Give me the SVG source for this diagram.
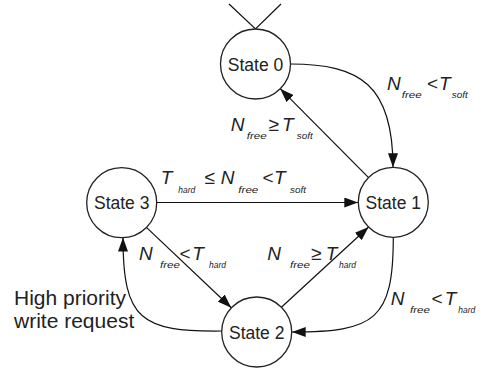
<svg xmlns="http://www.w3.org/2000/svg" width="487" height="373" viewBox="0 0 487 373">
  <style>
    .state circle { fill: #ffffff; stroke: #222; stroke-width: 1.3; }
    .state text { font-family: "Liberation Sans", Arial, sans-serif; font-size: 17.5px; fill: #222; text-anchor: middle; }
    .edge { fill: none; stroke: #111; stroke-width: 1.2; }
    .lbl text { font-family: "Liberation Sans", Arial, sans-serif; fill: #222; }
    .v { font-size: 19px; font-style: italic; }
    .op { font-size: 19px; }
    .sub { font-size: 9px; font-style: italic; }
    .note { font-family: "Liberation Sans", Arial, sans-serif; font-size: 21px; fill: #222; }
  </style>
  <defs>
    <marker id="arrow" markerWidth="14" markerHeight="10" refX="14" refY="5" orient="auto" markerUnits="userSpaceOnUse">
      <path d="M0,0 L14,5 L0,10 z" fill="#111"/>
    </marker>
  </defs>

  <rect width="487" height="373" fill="#ffffff"/>

  <!-- connectors -->
  <g id="connectors">
    <!-- entry mark above State 0 -->
    <path class="edge" d="M229,4 L255.5,29 L281,4"/>
    <!-- State 0 -> State 1 -->
    <path class="edge" d="M290.5,64 C360,64 393,85 393,167.3" marker-end="url(#arrow)"/>
    <!-- State 1 -> State 0 -->
    <path class="edge" d="M368.6,177.6 L280.2,88.7" marker-end="url(#arrow)"/>
    <!-- State 3 -> State 1 -->
    <path class="edge" d="M156.7,202.5 L358.3,202.5" marker-end="url(#arrow)"/>
    <!-- State 3 -> State 2 -->
    <path class="edge" d="M146.4,227.4 L231.3,307.7" marker-end="url(#arrow)"/>
    <!-- State 2 -> State 1 -->
    <path class="edge" d="M281.4,307.3 L368.6,227" marker-end="url(#arrow)"/>
    <!-- State 1 -> State 2 -->
    <path class="edge" d="M393.3,237.3 C393.3,320 375,332 291.7,332" marker-end="url(#arrow)"/>
    <!-- State 2 -> State 3 (high priority write) -->
    <path class="edge" d="M221.7,331 C141,332 123,320 123,237.5" marker-end="url(#arrow)"/>
  </g>

  <!-- states -->
  <g id="state0" class="state">
    <circle cx="255.5" cy="64" r="35"/>
    <text x="255.5" y="70.5">State 0</text>
  </g>
  <g id="state1" class="state">
    <circle cx="393.3" cy="202.3" r="35"/>
    <text x="393.3" y="208.8">State 1</text>
  </g>
  <g id="state2" class="state">
    <circle cx="256.7" cy="332" r="35"/>
    <text x="256.7" y="338.5">State 2</text>
  </g>
  <g id="state3" class="state">
    <circle cx="121.7" cy="202.7" r="35"/>
    <text x="121.7" y="209.2">State 3</text>
  </g>

  <!-- transition labels -->
  <g id="label-s0-s1" class="lbl">
    <text class="v" x="387" y="89.5">N</text>
    <text class="sub" x="401.7" y="97.5" textLength="20" lengthAdjust="spacingAndGlyphs">free</text>
    <text class="op" x="427" y="89.5">&lt;</text>
    <text class="v" x="439" y="89.5">T</text>
    <text class="sub" x="451.7" y="97.5" textLength="16" lengthAdjust="spacingAndGlyphs">soft</text>
  </g>
  <g id="label-s1-s0" class="lbl">
    <text class="v" x="230.7" y="131">N</text>
    <text class="sub" x="246.7" y="139.3" textLength="20" lengthAdjust="spacingAndGlyphs">free</text>
    <text class="op" x="268.5" y="131">≥</text>
    <text class="v" x="282" y="131">T</text>
    <text class="sub" x="296.7" y="139.3" textLength="16" lengthAdjust="spacingAndGlyphs">soft</text>
  </g>
  <g id="label-s3-s1" class="lbl">
    <text class="v" x="160.7" y="183.5">T</text>
    <text class="sub" x="178.3" y="193.3" textLength="17" lengthAdjust="spacingAndGlyphs">hard</text>
    <text class="op" x="204.5" y="183.5">≤</text>
    <text class="v" x="220.7" y="183.5">N</text>
    <text class="sub" x="238.3" y="193.3" textLength="20" lengthAdjust="spacingAndGlyphs">free</text>
    <text class="op" x="262.5" y="183.5">&lt;</text>
    <text class="v" x="274" y="183.5">T</text>
    <text class="sub" x="290" y="193.3" textLength="16" lengthAdjust="spacingAndGlyphs">soft</text>
  </g>
  <g id="label-s3-s2" class="lbl">
    <text class="v" x="139" y="260">N</text>
    <text class="sub" x="160" y="268.3" textLength="20" lengthAdjust="spacingAndGlyphs">free</text>
    <text class="op" x="179.5" y="260">&lt;</text>
    <text class="v" x="192.3" y="260">T</text>
    <text class="sub" x="209" y="268.3" textLength="17" lengthAdjust="spacingAndGlyphs">hard</text>
  </g>
  <g id="label-s2-s1" class="lbl">
    <text class="v" x="267.3" y="260">N</text>
    <text class="sub" x="290" y="268.3" textLength="20" lengthAdjust="spacingAndGlyphs">free</text>
    <text class="op" x="311" y="260">≥</text>
    <text class="v" x="325.7" y="260">T</text>
    <text class="sub" x="339" y="268.3" textLength="17" lengthAdjust="spacingAndGlyphs">hard</text>
  </g>
  <g id="label-s1-s2" class="lbl">
    <text class="v" x="390.7" y="304.5">N</text>
    <text class="sub" x="410" y="312.7" textLength="20" lengthAdjust="spacingAndGlyphs">free</text>
    <text class="op" x="431.5" y="304.5">&lt;</text>
    <text class="v" x="444.7" y="304.5">T</text>
    <text class="sub" x="458.3" y="312.7" textLength="17" lengthAdjust="spacingAndGlyphs">hard</text>
  </g>
  <g id="label-s2-s3">
    <text class="note" x="14" y="305">High priority</text>
    <text class="note" x="14" y="328">write request</text>
  </g>
</svg>
